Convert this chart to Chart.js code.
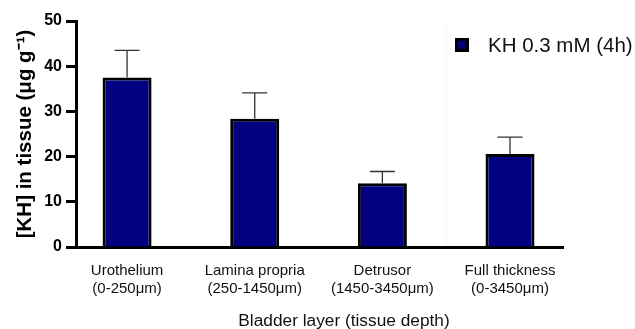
<!DOCTYPE html>
<html>
<head>
<meta charset="utf-8">
<script src="https://cdn.jsdelivr.net/npm/chart.js@4.4.1/dist/chart.umd.min.js"></script>
<style>
  html, body { margin: 0; padding: 0; background: #fff; }
  #wrap { position: relative; width: 635px; height: 329px; }
  #legend { position: absolute; left: 455px; top: 33px; font-family: Arial, "Liberation Sans", Helvetica, sans-serif; }
  #legend .item { display: flex; align-items: center; }
  #legend .box { width: 8px; height: 8px; border: 3px solid #000; margin-right: 19px; }
  #legend .txt { font-size: 20.5px; color: #111; line-height: 24px; white-space: nowrap; }
</style>
</head>
<body>
<div id="wrap">
  <canvas id="chart"></canvas>
  <div id="legend"></div>
</div>
<script>
// Bladder layers (tick labels, two lines each)
const categories = [
  ["Urothelium", "(0-250\u03bcm)"],
  ["Lamina propria", "(250-1450\u03bcm)"],
  ["Detrusor", "(1450-3450\u03bcm)"],
  ["Full thickness", "(0-3450\u03bcm)"]
];
const seriesName = "KH 0.3 mM (4h)";
// Mean KH concentration per layer and its upper error (SEM)
const khMean = [37.5, 28.4, 14.1, 20.6];
const khError = [6.0, 5.7, 2.6, 3.7];
const yTicks = [0, 10, 20, 30, 40, 50];

const FONT = 'Arial, "Liberation Sans", Helvetica, sans-serif';

// Upper error whiskers with caps
const errorBars = {
  id: 'errorBars',
  afterDatasetsDraw(chart) {
    const meta = chart.getDatasetMeta(0);
    const y = chart.scales.y;
    const ctx = chart.ctx;
    ctx.save();
    ctx.strokeStyle = '#333';
    ctx.lineWidth = 1.3;
    meta.data.forEach((bar, i) => {
      const yBase = y.getPixelForValue(khMean[i]);
      const yTop = y.getPixelForValue(khMean[i] + khError[i]);
      ctx.beginPath();
      ctx.moveTo(bar.x, yBase);
      ctx.lineTo(bar.x, yTop);
      ctx.moveTo(bar.x - 12.5, yTop);
      ctx.lineTo(bar.x + 12.5, yTop);
      ctx.stroke();
    });
    ctx.restore();
  }
};

// Faint dotted separator between the layer bars and the full-thickness bar
const separator = {
  id: 'separator',
  beforeDatasetsDraw(chart) {
    const x = chart.scales.x.getPixelForValue(2.5);
    const { top, bottom } = chart.chartArea;
    const ctx = chart.ctx;
    ctx.save();
    ctx.strokeStyle = '#e2e2e2';
    ctx.lineWidth = 1;
    ctx.setLineDash([1, 2]);
    ctx.beginPath();
    ctx.moveTo(Math.round(x) + 0.5, top);
    ctx.lineTo(Math.round(x) + 0.5, bottom - 2);
    ctx.stroke();
    ctx.restore();
  }
};

// X axis title, set slightly right of the axis centre
const xTitle = {
  id: 'xTitle',
  afterDraw(chart) {
    const ctx = chart.ctx;
    ctx.save();
    ctx.font = '17.3px ' + FONT;
    ctx.fillStyle = '#111';
    ctx.textAlign = 'center';
    ctx.textBaseline = 'middle';
    ctx.fillText('Bladder layer (tissue depth)', chart.chartArea.left + 268, 321);
    ctx.restore();
  }
};

// HTML legend built from the chart's datasets
const htmlLegend = {
  id: 'htmlLegend',
  afterUpdate(chart) {
    const el = document.getElementById('legend');
    el.innerHTML = '';
    chart.data.datasets.forEach(ds => {
      const item = document.createElement('div');
      item.className = 'item';
      const box = document.createElement('span');
      box.className = 'box';
      box.style.background = ds.backgroundColor;
      const txt = document.createElement('span');
      txt.className = 'txt';
      txt.textContent = ds.label;
      item.appendChild(box);
      item.appendChild(txt);
      el.appendChild(item);
    });
  }
};

new Chart(document.getElementById('chart'), {
  type: 'bar',
  data: {
    datasets: [{
      label: seriesName,
      data: khMean.map((v, i) => ({ x: i, y: v })),
      backgroundColor: '#000080',
      borderColor: '#000',
      borderWidth: 3,
      barPercentage: 0.384,
      categoryPercentage: 1
    }]
  },
  options: {
    responsive: true,
    maintainAspectRatio: false,
    animation: false,
    layout: { padding: { left: 0, right: 72, top: 21, bottom: 16 } },
    plugins: {
      legend: { display: false },
      tooltip: { enabled: false }
    },
    scales: {
      x: {
        type: 'linear',
        offset: false,
        min: -0.4,
        max: 3.415,
        afterBuildTicks(scale) {
          scale.ticks = categories.map((c, i) => ({ value: i }));
        },
        grid: { display: false, drawTicks: false },
        border: { display: true, width: 3, color: '#000' },
        ticks: {
          autoSkip: false,
          maxRotation: 0,
          padding: 15,
          color: '#111',
          font: { family: FONT, size: 15 },
          callback: (v) => categories[v]
        }
      },
      y: {
        min: 0,
        max: 50,
        afterBuildTicks(scale) {
          scale.ticks = yTicks.map(v => ({ value: v }));
        },
        afterFit(scale) { scale.width = 76; },
        grid: {
          drawOnChartArea: false,
          drawTicks: true,
          tickLength: 10,
          tickWidth: 3,
          tickColor: '#000'
        },
        border: { display: true, width: 3, color: '#000' },
        ticks: {
          padding: 4,
          color: '#000',
          font: { family: FONT, size: 16, weight: 'bold' }
        },
        title: {
          display: true,
          text: '[KH] in tissue (\u03bcg g\u207b\u00b9)',
          color: '#000',
          padding: { top: 13, bottom: 0 },
          font: { family: FONT, size: 20.5, weight: 'bold' }
        }
      }
    }
  },
  plugins: [errorBars, separator, xTitle, htmlLegend]
});
</script>
</body>
</html>
